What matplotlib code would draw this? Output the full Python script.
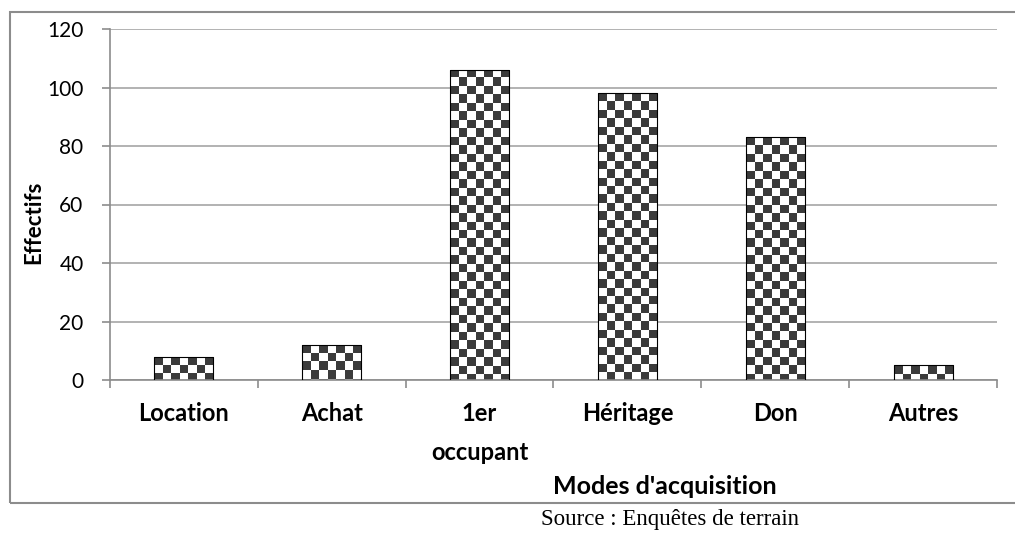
import numpy as np
import matplotlib
matplotlib.use("Agg")
import matplotlib.pyplot as plt
from matplotlib.patches import Rectangle

# data
categories = ['Location', 'Achat', '1er\noccupant', 'Héritage', 'Don', 'Autres']
effectifs = [8, 12, 106, 98, 83, 5]
y_ticks = [0, 20, 40, 60, 80, 100, 120]

plt.rcParams['font.family'] = ['Lato', 'DejaVu Sans']

W, H = 1015, 535
fig = plt.figure(figsize=(W / 100, H / 100), dpi=100)

# axes box in pixels
left, right, top, bottom = 110, 997, 29, 380
ax = fig.add_axes([left / W, 1 - bottom / H, (right - left) / W, (bottom - top) / H])

# outer chart frame
fig.patches.append(Rectangle((10 / W, 1 - 503 / H), 1.1, (503 - 12) / H,
                             transform=fig.transFigure, fill=False,
                             edgecolor='#8c8c8c', linewidth=1.5, clip_on=False))

x = np.arange(len(categories))
width = 0.4
bars = ax.bar(x, effectifs, width=width, facecolor='none', edgecolor='black',
              linewidth=0.8, zorder=3)

# checkerboard fill, ~8 px cells clipped to each bar
px_per_unit = (bottom - top) / 120
cell_px = width * (right - left) / len(categories) / 7
cmap = matplotlib.colors.ListedColormap(['#3b3b3b', 'white'])
for b in bars:
    h = b.get_height()
    nrows = int(np.ceil(h * px_per_unit / cell_px))
    rr, cc = np.indices((nrows, 7))
    checker = ((rr + cc) % 2).astype(float)
    ybot = h - nrows * cell_px / px_per_unit
    im = ax.imshow(checker, cmap=cmap, vmin=0, vmax=1,
                   extent=(b.get_x(), b.get_x() + width, ybot, h),
                   aspect='auto', interpolation='nearest', zorder=2.5)
    im.set_clip_path(b)

ax.set_xlim(-0.5, len(categories) - 0.5)
ax.set_ylim(0, 120)
ax.set_yticks(y_ticks)
ax.yaxis.grid(True, color='#a6a6a6', linewidth=1.2)
ax.set_axisbelow(True)

ax.set_xticks(x)
ax.set_xticklabels(categories, fontsize=17, fontweight='bold', linespacing=1.85,
                   va='top')
ax.set_xticks(np.arange(len(categories) + 1) - 0.5, minor=True)
ax.tick_params(axis='x', which='major', length=0, pad=16)
ax.tick_params(axis='x', which='minor', length=6, color='#8c8c8c', width=1.2)
ax.tick_params(axis='y', length=6, color='#8c8c8c', width=1.2, labelsize=15, pad=13)

for s in ['top', 'right']:
    ax.spines[s].set_visible(False)
for s in ['left', 'bottom']:
    ax.spines[s].set_color('#8c8c8c')
    ax.spines[s].set_linewidth(1.2)

fig.text(34 / W, 1 - 222 / H, 'Effectifs', rotation=90, fontsize=16,
         fontweight='bold', ha='center', va='center')
fig.text(665 / W, 1 - 486 / H, "Modes d'acquisition", fontsize=18,
         fontweight='bold', ha='center', va='center')
fig.text(670 / W, 1 - 519 / H, 'Source : Enquêtes de terrain', fontsize=16.5,
         family='Liberation Serif', ha='center', va='center')

fig.savefig('out.png', dpi=100)
